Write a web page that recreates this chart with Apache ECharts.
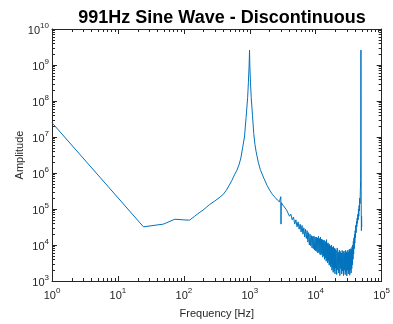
<!DOCTYPE html>
<html>
<head>
<meta charset="utf-8">
<script src="https://cdn.jsdelivr.net/npm/echarts@6/dist/echarts.min.js"></script>
<style>
  html, body { margin: 0; padding: 0; background: #fff; }
  #chart { width: 393px; height: 324px; }
</style>
</head>
<body>
<div id="chart"></div>
<script>
// frequency bins [Hz] and amplitude
const freq = [
  1, 24.4, 48.8, 73.2, 97.7, 122, 146, 171, 195, 220, 244, 293, 342, 391, 440, 488,
  537, 586, 635, 684, 732, 781, 830, 879, 928, 952, 977, 991, 1001, 1025, 1050, 1099,
  1147, 1196, 1245, 1343, 1440, 1636, 1831, 2026, 2221, 2417, 2612, 2807, 2930, 2955, 2975,
  3000, 3200, 3400, 3600, 3800, 4000, 4200, 4400, 4600, 4800, 5000, 5200,
  5400, 5600, 5800, 6000, 6200, 6400, 6600, 6800, 7000, 7200, 7400, 7600,
  7800, 8000, 8200, 8400, 8600, 8800, 9000, 9200, 9400, 9600, 9800, 10000,
  10200, 10400, 10600, 10800, 11000, 11200, 11400, 11600, 11800, 12000,
  12200, 12400, 12600, 12800, 13000, 13200, 13400, 13600, 13800, 14000,
  14200, 14400, 14600, 14800, 15000, 15200, 15400, 15600, 15800, 16000,
  16200, 16400, 16600, 16800, 17000, 17200, 17400, 17600, 17800, 18000,
  18200, 18400, 18600, 18800, 19000, 19200, 19400, 19600, 19800, 20000,
  20400, 20800, 21200, 21600, 22000, 22400, 22800, 23200, 23600, 24000,
  24400, 24800, 25200, 25600, 26000, 26400, 26800, 27200, 27600, 28000,
  28400, 28800, 29200, 29600, 30000, 30400, 30800, 31200, 31600, 32000,
  32400, 32800, 33200, 33600, 34000, 34400, 34800, 35200, 35600, 36000,
  36400, 36800, 37200, 37600, 38000, 38400, 38800, 39200, 39600, 40000,
  40500, 41000, 41500, 42000, 42500, 43000, 43500, 44000, 44500, 45000,
  45500, 46000, 46500, 47000, 47500, 48000, 48300, 48500, 48700, 49000, 49300, 49600, 49900
];
const amp = [
  2.5e7, 3.2e4, 3.8e4, 5.2e4, 5.0e4, 4.9e4, 6.3e4, 7.9e4, 9.3e4, 1.12e5, 1.32e5, 1.66e5, 2.04e5, 2.5e5, 3.3e5, 4.6e5,
  6.3e5, 8.9e5, 1.17e6, 1.66e6, 2.6e6, 5.2e6, 1e7, 3.5e7, 1.26e8, 3.2e8, 1e9, 2.6e9, 1e9, 3.2e8, 1.26e8, 4e7,
  1.26e7, 6.3e6, 4e6, 2e6, 1.26e6, 7.1e5, 4.5e5, 3.2e5, 2.5e5, 2.1e5, 1.78e5, 1.58e5, 1.5e5, 2.2e5, 3.8e4,
  1.51e5, 1.26e5, 1.2e5, 9.5e4, 9.1e4, 6.3e4, 7.2e4, 5.0e4, 6.0e4, 3.8e4, 5.0e4, 3.2e4,
  4.4e4, 2.75e4, 3.8e4, 2.3e4, 3.5e4, 2.0e4, 3.0e4, 1.66e4, 2.75e4, 1.51e4, 2.5e4, 1.2e4,
  2.2e4, 1.0e4, 2.0e4, 9.5e3, 1.82e4, 8.3e3, 1.74e4, 7.9e3, 1.78e4, 7.2e3, 1.66e4, 6.9e3,
  1.66e4, 6.6e3, 1.58e4, 6.0e3, 1.74e4, 6.3e3, 1.51e4, 5.5e3, 1.66e4, 5.25e3,
  1.45e4, 5.75e3, 1.41e4, 4.57e3, 1.32e4, 5.0e3, 1.38e4, 4.0e3, 1.2e4, 4.37e3,
  1.26e4, 3.55e3, 1.41e4, 3.8e3, 1.1e4, 3.16e3, 1.15e4, 3.63e3, 1.0e4, 2.75e3,
  1.05e4, 3.0e3, 9.5e3, 2.5e3, 9.1e3, 2.9e3, 1.0e4, 2.0e3, 8.7e3, 2.4e3,
  8.3e3, 1.74e3, 9.1e3, 2.2e3, 7.9e3, 1.9e3, 8.3e3, 1.58e3, 7.6e3, 2.3e3,
  7.1e3, 1.51e3, 8.3e3, 2.0e3, 6.3e3, 1.66e3, 7.2e3, 1.41e3, 6.6e3, 2.2e3,
  6.0e3, 1.58e3, 7.1e3, 1.9e3, 6.3e3, 1.41e3, 6.8e3, 2.0e3, 6.0e3, 1.51e3,
  7.1e3, 1.78e3, 6.3e3, 1.38e3, 6.6e3, 2.0e3, 7.2e3, 1.58e3, 6.3e3, 1.9e3,
  7.6e3, 1.45e3, 6.6e3, 2.0e3, 7.9e3, 1.66e3, 7.6e3, 2.2e3, 8.9e3, 2.8e3,
  1.0e4, 4.0e3, 1.26e4, 5.6e3, 1.58e4, 7.9e3, 2.0e4, 1.12e4, 2.5e4, 1.58e4,
  3.5e4, 2.2e4, 4.5e4, 3.2e4, 5.6e4, 4.0e4, 7.1e4, 5.0e4, 1.0e5, 6.3e4,
  1.26e5, 8.9e4, 2.0e5, 1.41e5, 3.2e5, 6.3e5, 3.2e6, 2.6e9, 2.0e6, 1.0e5, 2.5e4, 6.3e4, 3.2e4
];

const xRange = [1, 1e5];
const yRange = [1e3, 1e10];

// minor log ticks (2..9 in every decade)
function minorTicks(lo, hi) {
  const out = [];
  for (let d = lo; d < hi; d *= 10) {
    for (let m = 2; m <= 9; m++) out.push(m * d);
  }
  return out;
}
const xMinor = minorTicks(xRange[0], xRange[1]);
const yMinor = minorTicks(yRange[0], yRange[1]);

const font = '"Liberation Sans", Arial, Helvetica, sans-serif';
const axisColor = '#262626';

function expLabel(v) {
  const e = Math.round(Math.log10(v));
  return '{b|10}{s|' + e + '}';
}
const labelRich = {
  b: { fontSize: 11, color: axisColor, fontFamily: font, verticalAlign: 'bottom' },
  s: { fontSize: 8, color: axisColor, fontFamily: font, verticalAlign: 'bottom', padding: [0, 0, 6, 0] }
};

function logAxis(range, pos, opts) {
  return Object.assign({
    type: 'log',
    logBase: 10,
    min: range[0],
    max: range[1],
    position: pos,
    splitLine: { show: false },
    axisLine: { show: true, onZero: false, lineStyle: { color: axisColor, width: 1 } },
    axisTick: { show: true, inside: true, length: 5, lineStyle: { color: axisColor } },
    axisLabel: { show: false },
    minorTick: { show: false }
  }, opts);
}
function minorAxis(range, pos, ticks) {
  return logAxis(range, pos, {
    axisLine: { show: false },
    axisTick: { show: true, inside: true, length: 3, customValues: ticks, lineStyle: { color: axisColor } }
  });
}

const chart = echarts.init(document.getElementById('chart'));

chart.setOption({
  animation: false,
  title: {
    text: '991Hz Sine Wave - Discontinuous',
    left: 217,
    textAlign: 'center',
    top: 4,
    textStyle: { fontFamily: font, fontSize: 18, fontWeight: 'bold', color: '#000' }
  },
  grid: { left: 52, right: 11, top: 29, bottom: 39 },
  xAxis: [
    logAxis(xRange, 'bottom', {
      name: 'Frequency [Hz]',
      nameLocation: 'middle',
      nameGap: 27,
      nameMoveOverlap: false,
      nameTextStyle: { fontFamily: font, fontSize: 11, color: axisColor },
      axisLabel: { show: true, margin: 6, formatter: expLabel, rich: labelRich }
    }),
    minorAxis(xRange, 'bottom', xMinor),
    logAxis(xRange, 'top'),
    minorAxis(xRange, 'top', xMinor)
  ],
  yAxis: [
    logAxis(yRange, 'left', {
      name: 'Amplitude',
      nameLocation: 'middle',
      nameGap: 27,
      nameMoveOverlap: false,
      nameTextStyle: { fontFamily: font, fontSize: 11, color: axisColor },
      axisLabel: { show: true, margin: 3, formatter: expLabel, rich: labelRich }
    }),
    minorAxis(yRange, 'left', yMinor),
    logAxis(yRange, 'right'),
    minorAxis(yRange, 'right', yMinor)
  ],
  series: [{
    type: 'line',
    xAxisIndex: 0,
    yAxisIndex: 0,
    data: freq.map((f, i) => [f, amp[i]]),
    showSymbol: false,
    symbol: 'none',
    lineStyle: { color: '#0072BD', width: 1 },
    clip: true
  }]
});
</script>
</body>
</html>
